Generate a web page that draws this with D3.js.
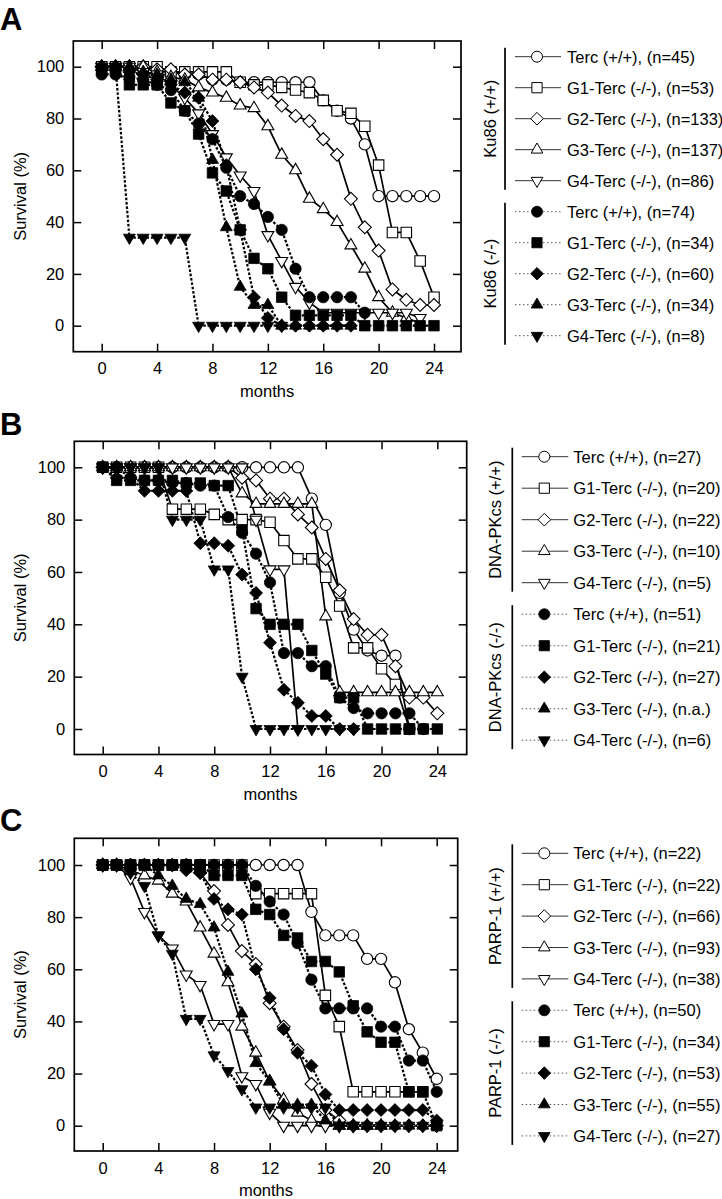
<!DOCTYPE html>
<html><head><meta charset="utf-8">
<script src="https://cdn.jsdelivr.net/npm/d3@7"></script>
<style>
body{margin:0;background:#fff}
svg{display:block}
text{font-family:"Liberation Sans",Arial,Helvetica,sans-serif;fill:#000}
</style>
</head><body>
<svg id="chart" width="722" height="1199"></svg>
<script>
const _ = null;
const months = [0,1,2,3,4,5,6,7,8,9,10,11,12,13,14,15,16,17,18,19,20,21,22,23,24];
const xTicks = [0,4,8,12,16,20,24];
const yTicks = [0,20,40,60,80,100];
const seriesNames = ["Terc (+/+)","G1-Terc (-/-)","G2-Terc (-/-)","G3-Terc (-/-)","G4-Terc (-/-)"];

// Panel A: Ku86
const kuGroups = ["Ku86 (+/+)","Ku86 (-/-)"];
const kuN = ["(n=45)","(n=53)","(n=133)","(n=137)","(n=86)","(n=74)","(n=34)","(n=60)","(n=34)","(n=8)"];
const kuWT_Terc = [100,100,100,100,98,98,97,97,95,95,94,94,94,94,94,94,87,83,80,70,50,50,50,50,50];
const kuWT_G1   = [100,100,100,100,100,98,98,98,98,98,94,93,93,92,91,90,87,83,82,77,62,36,36,25,11];
const kuWT_G2   = [100,100,100,100,99,99,97,97,95,95,94,92,90,85,81,79,72,66,49,38,29,14,10,8,8];
const kuWT_G3   = [100,100,100,100,98,96,95,92,90,88,85,84,77,66,60,49,45,40,31,22,11,5,3,1,_];
const kuWT_G4   = [100,100,100,98,97,93,88,82,74,65,58,52,35,25,15,9,5,5,5,5,5,5,5,3,_];
const kuKO_Terc = [97,97,96,95,93,91,83,78,72,61,50,47,42,37,22,11,11,11,11,5,_,_,_,_,_];
const kuKO_G1   = [99,99,93,93,93,86,83,74,59,52,37,26,22,11,4,4,4,4,4,0,0,0,0,0,0];
const kuKO_G2   = [100,100,98,97,95,93,90,88,79,62,37,11,3,0,0,0,0,0,0,_,_,_,_,_,_];
const kuKO_G3   = [100,100,100,98,97,95,94,88,64,38,15,8,8,0,0,0,0,0,0,_,_,_,_,_,_];
const kuKO_G4   = [100,100,34,34,34,34,34,0,0,0,0,0,0,0,_,_,_,_,_,_,_,_,_,_,_];

// Panel B: DNA-PKcs
const dnaGroups = ["DNA-PKcs (+/+)","DNA-PKcs (-/-)"];
const dnaN = ["(n=27)","(n=20)","(n=22)","(n=10)","(n=5)","(n=51)","(n=21)","(n=27)","(n.a.)","(n=6)"];
const dnaWT_Terc = [100,100,100,100,100,100,100,100,100,100,100,100,100,100,100,88,78,52,38,30,28,28,0,_,_];
const dnaWT_G1   = [100,100,100,100,100,84,84,84,82,80,80,80,79,72,65,65,58,47,31,31,23,17,0,_,_];
const dnaWT_G2   = [100,100,100,100,100,100,100,100,100,100,96,95,88,88,82,77,65,53,42,36,36,24,12,12,6];
const dnaWT_G3   = [100,100,100,100,100,100,100,100,100,100,90,86,86,86,86,86,43,14,14,14,14,14,14,14,14];
const dnaWT_G4   = [100,100,100,100,100,100,100,100,100,100,100,80,61,61,0,_,_,_,_,_,_,_,_,_,_];
const dnaKO_Terc = [100,100,96,95,95,94,94,93,93,81,75,67,56,29,29,24,24,12,8,6,6,6,6,0,_];
const dnaKO_G1   = [100,95,95,95,95,95,94,94,93,93,76,46,40,40,40,30,21,12,12,0,0,0,0,0,0];
const dnaKO_G2   = [100,96,96,91,91,91,91,71,71,70,59,52,33,15,10,5,5,0,0,_,_,_,_,_,_];
const dnaKO_G3   = [_,_,_,_,_,_,_,_,_,_,_,_,_,_,_,_,_,_,_,_,_,_,_,_,_];
const dnaKO_G4   = [100,100,100,100,100,80,80,80,61,61,20,0,0,0,0,0,0,0,0,_,_,_,_,_,_];

// Panel C: PARP-1
const parpGroups = ["PARP-1 (+/+)","PARP-1 (-/-)"];
const parpN = ["(n=22)","(n=22)","(n=66)","(n=93)","(n=38)","(n=50)","(n=34)","(n=53)","(n=55)","(n=27)"];
const parpWT_Terc = [100,100,100,100,100,100,100,100,100,100,100,100,100,100,100,82,73,73,73,64,64,55,37,28,18];
const parpWT_G1   = [100,100,100,100,100,100,100,100,100,100,100,89,89,89,89,89,50,38,13,13,13,13,13,13,_];
const parpWT_G2   = [100,100,100,100,100,100,100,97,90,77,67,62,47,38,29,16,6,2,0,0,0,0,0,0,0];
const parpWT_G3   = [100,100,98,96,94,89,86,76,66,55,38,28,17,10,5,2,1,0,0,0,0,_,_,_,_];
const parpWT_G4   = [100,100,95,82,73,68,58,54,39,39,19,16,5,0,0,0,0,0,0,_,_,_,_,_,_];
const parpKO_Terc = [100,100,100,100,100,100,100,100,100,100,100,92,86,81,70,56,45,45,45,45,38,38,25,25,13];
const parpKO_G1   = [100,100,100,100,100,100,100,100,96,96,96,83,81,73,72,63,63,59,46,36,32,32,13,13,0];
const parpKO_G2   = [100,100,100,100,100,100,98,97,87,83,81,60,49,37,28,23,12,6,6,6,6,6,6,6,2];
const parpKO_G3   = [100,100,100,100,96,92,87,85,76,59,43,24,17,8,8,8,2,0,0,0,0,0,0,0,0];
const parpKO_G4   = [100,100,97,92,73,66,41,41,27,21,14,7,7,7,7,7,7,0,0,0,0,0,0,0,0];

// ---------- layout ----------
const panels = [
  {letter:"A", letterY:30, groups:kuGroups, n:kuN,
   series:[kuWT_Terc,kuWT_G1,kuWT_G2,kuWT_G3,kuWT_G4,kuKO_Terc,kuKO_G1,kuKO_G2,kuKO_G3,kuKO_G4],
   left:73.3, right:461, top:41, bottom:351.7, x0:101.7, x24:434, y100:66.7, y0:325.7,
   leg:{bracket:505, l1:515, l2:561, m:537, t:567, g:490, y0:56.7, dy:31}},
  {letter:"B", letterY:435, groups:dnaGroups, n:dnaN,
   series:[dnaWT_Terc,dnaWT_G1,dnaWT_G2,dnaWT_G3,dnaWT_G4,dnaKO_Terc,dnaKO_G1,dnaKO_G2,dnaKO_G3,dnaKO_G4],
   left:74.3, right:466.7, top:441.3, bottom:754.5, x0:102.7, x24:437.3, y100:467.3, y0:729,
   leg:{bracket:512.3, l1:521.7, l2:568.3, m:544.3, t:573.3, g:495, y0:456.7, dy:31.5}},
  {letter:"C", letterY:831, groups:parpGroups, n:parpN,
   series:[parpWT_Terc,parpWT_G1,parpWT_G2,parpWT_G3,parpWT_G4,parpKO_Terc,parpKO_G1,parpKO_G2,parpKO_G3,parpKO_G4],
   left:74.3, right:457.7, top:838.3, bottom:1151, x0:102.7, x24:436.7, y100:865, y0:1125.7,
   leg:{bracket:512.3, l1:521.7, l2:568.3, m:544.3, t:573.3, g:495, y0:853.3, dy:31.4}}
];

// custom symbol types
const symCircle = {draw(c,s){const r=Math.sqrt(s/Math.PI);c.moveTo(r,0);c.arc(0,0,r,0,2*Math.PI);}};
const symSquare = {draw(c,s){const h=Math.sqrt(s)/2;c.rect(-h,-h,2*h,2*h);}};
const symDiamond = {draw(c,s){const h=Math.sqrt(s/2);c.moveTo(0,-h);c.lineTo(h,0);c.lineTo(0,h);c.lineTo(-h,0);c.closePath();}};
const symUp = {draw(c,s){const r=Math.sqrt(s/1.3);c.moveTo(0,-r);c.lineTo(r*0.866,r*0.5);c.lineTo(-r*0.866,r*0.5);c.closePath();}};
const symDown = {draw(c,s){const r=Math.sqrt(s/1.3);c.moveTo(0,r);c.lineTo(r*0.866,-r*0.5);c.lineTo(-r*0.866,-r*0.5);c.closePath();}};
const shapeTypes = [symCircle,symSquare,symDiamond,symUp,symDown];
const shapeSizes = [100,110,84,62,62];

const svg = d3.select("#chart");

panels.forEach(p => {
  const g = svg.append("g");
  const x = d3.scaleLinear().domain([0,24]).range([p.x0,p.x24]);
  const y = d3.scaleLinear().domain([0,100]).range([p.y0,p.y100]);

  g.append("text").attr("x",0).attr("y",p.letterY).attr("font-size",31).attr("font-weight","bold").text(p.letter);

  const ax = g.append("g").attr("class","axes");
  ax.append("g").attr("transform",`translate(0,${p.bottom})`)
    .call(d3.axisBottom(x).tickValues(xTicks).tickSize(-8).tickPadding(11))
    .call(s=>s.select(".domain").remove());
  ax.append("g").attr("transform",`translate(0,${p.top})`)
    .call(d3.axisTop(x).tickValues(xTicks).tickSize(-8).tickFormat(""))
    .call(s=>s.select(".domain").remove());
  ax.append("g").attr("transform",`translate(${p.left},0)`)
    .call(d3.axisLeft(y).tickValues(yTicks).tickSize(-8).tickPadding(9))
    .call(s=>s.select(".domain").remove());
  ax.append("g").attr("transform",`translate(${p.right},0)`)
    .call(d3.axisRight(y).tickValues(yTicks).tickSize(-8).tickFormat(""))
    .call(s=>s.select(".domain").remove());
  ax.selectAll("text").attr("font-size",16.5).attr("font-family","Liberation Sans, Arial, sans-serif").attr("fill","#000");
  ax.selectAll("line").attr("stroke","#000").attr("stroke-width",1.5);
  g.append("rect").attr("x",p.left).attr("y",p.top).attr("width",p.right-p.left).attr("height",p.bottom-p.top)
    .attr("fill","none").attr("stroke","#000").attr("stroke-width",1.7);

  g.append("text").attr("transform",`translate(20,${(p.top+p.bottom)/2}) rotate(-90)`)
    .attr("text-anchor","middle").attr("dominant-baseline","central").attr("font-size",16.5).text("Survival (%)");
  g.append("text").attr("x",(p.left+p.right)/2).attr("y",p.bottom+45)
    .attr("text-anchor","middle").attr("font-size",16.5).text("months");

  const line = d3.line().defined(d=>d.v!=null).x(d=>x(d.m)).y(d=>y(d.v));
  const plot = g.append("g");
  p.series.forEach((vals,i) => {
    const pts = months.map((m,k)=>({m, v: vals[k]}));
    const ko = i>=5;
    plot.append("path").datum(pts).attr("d",line).attr("fill","none")
      .attr("stroke","#000").attr("stroke-width", ko?2.2:1.7)
      .attr("stroke-dasharray", ko?"2.6,1.8":null);
  });
  [0,1,2,3,4,5,6,7,8,9].forEach(i => {
    const vals = p.series[i];
    const ko = i>=5;
    const si = i%5;
    const pts = months.map((m,k)=>({m, v: vals[k]})).filter(d=>d.v!=null);
    const sym = d3.symbol().type(shapeTypes[si]).size(shapeSizes[si]);
    plot.selectAll(null).data(pts).enter().append("path")
      .attr("transform",d=>`translate(${x(d.m)},${y(d.v)})`)
      .attr("d",sym)
      .attr("fill", ko?"#000":"#fff")
      .attr("stroke","#000").attr("stroke-width", ko?0.8:1.1);
  });

  const L = p.leg;
  const lg = g.append("g");
  [0,1].forEach(gi => {
    const yTop = L.y0 + L.dy*gi*5 - 9;
    const yBot = L.y0 + L.dy*(gi*5+4) + 9;
    lg.append("line").attr("x1",L.bracket).attr("x2",L.bracket).attr("y1",yTop).attr("y2",yBot)
      .attr("stroke","#000").attr("stroke-width",1.7);
    lg.append("text").attr("transform",`translate(${L.g},${(yTop+yBot)/2}) rotate(-90)`)
      .attr("text-anchor","middle").attr("dominant-baseline","central").attr("font-size",16.5).text(p.groups[gi]);
  });
  for (let i=0;i<10;i++){
    const ko = i>=5, si = i%5;
    const yy = L.y0 + L.dy*i;
    lg.append("line").attr("x1",L.l1).attr("x2",L.l2).attr("y1",yy).attr("y2",yy)
      .attr("stroke", ko?"#555":"#333").attr("stroke-width",1)
      .attr("stroke-dasharray", ko?"1.5,2.5":null);
    lg.append("path").attr("transform",`translate(${L.m},${yy})`)
      .attr("d", d3.symbol().type(shapeTypes[si]).size(shapeSizes[si]*0.95))
      .attr("fill", ko?"#000":"#fff").attr("stroke","#000").attr("stroke-width",ko?0.8:1);
    lg.append("text").attr("x",L.t).attr("y",yy).attr("dominant-baseline","central").attr("font-size",16.5)
      .text(seriesNames[si] + ", " + p.n[i]);
  }
});
</script>
</body></html>
